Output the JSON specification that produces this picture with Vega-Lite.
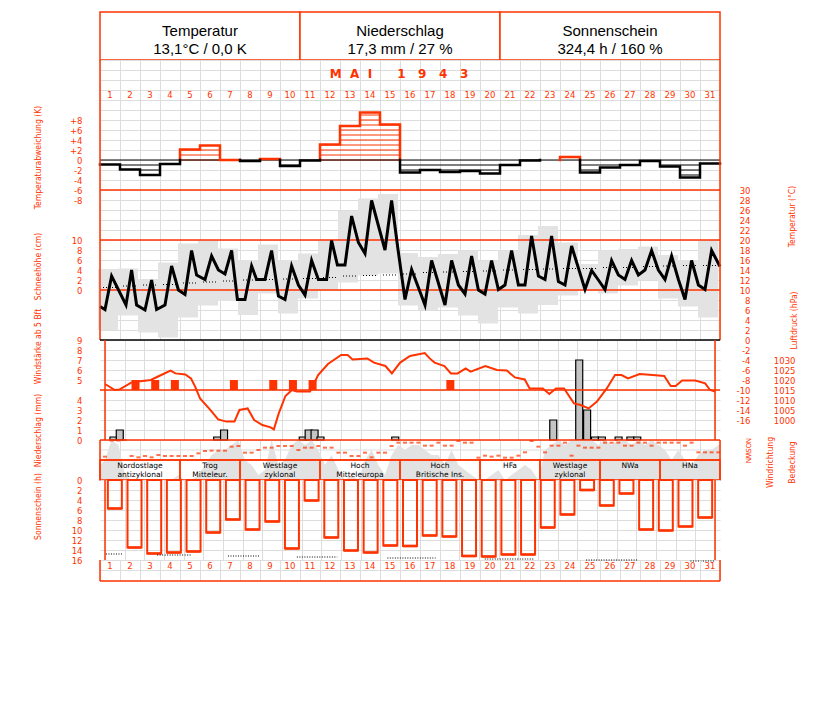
{
"$schema": "https://vega.github.io/schema/vega-lite/v6.json",
"autosize": "none",
"padding": {"left": 100, "top": 12, "right": 727, "bottom": 690},
"background": "white",
"spacing": 0,
"bounds": "flush",
"config": {
  "view": {"stroke": null},
  "axis": {"labelFont": "DejaVu Sans", "labelFontSize": 8.5, "labelColor": "#ff3300", "labelOverlap": false, "labelFlush": false,
           "titleFont": "Liberation Sans Narrow, DejaVu Sans Condensed, Liberation Sans", "titleFontSize": 8.5, "titleFontWeight": "normal", "titleColor": "#ff3300",
           "gridColor": "#dddddd", "gridWidth": 1, "domain": false, "ticks": false},
  "text": {"font": "DejaVu Sans"}
},
"datasets": {
  "hdr": [{"s":1,"e":10,"txt":"Temperatur\n13,1°C / 0,0 K"},{"s":11,"e":20,"txt":"Niederschlag\n17,3 mm / 27 %"},{"s":21,"e":31,"txt":"Sonnenschein\n324,4 h / 160 %"}],
  "anomLine": [
    {"sign":"pos","seg":"A","i":1,"t":4.5,"k":0},{"sign":"pos","seg":"A","i":2,"t":4.5,"k":2.1},{"sign":"pos","seg":"A","i":3,"t":5.5,"k":2.1},{"sign":"pos","seg":"A","i":4,"t":5.5,"k":2.9},{"sign":"pos","seg":"A","i":5,"t":6.5,"k":2.9},{"sign":"pos","seg":"A","i":6,"t":6.5,"k":0},{"sign":"pos","seg":"A","i":7,"t":7.5,"k":0},
    {"sign":"pos","seg":"B","i":1,"t":8.5,"k":0},{"sign":"pos","seg":"B","i":2,"t":8.5,"k":0.2},{"sign":"pos","seg":"B","i":3,"t":9.5,"k":0.2},{"sign":"pos","seg":"B","i":4,"t":9.5,"k":0},
    {"sign":"pos","seg":"C","i":1,"t":11.5,"k":0},{"sign":"pos","seg":"C","i":2,"t":11.5,"k":3.1},{"sign":"pos","seg":"C","i":3,"t":12.5,"k":3.1},{"sign":"pos","seg":"C","i":4,"t":12.5,"k":6.8},{"sign":"pos","seg":"C","i":5,"t":13.5,"k":6.8},{"sign":"pos","seg":"C","i":6,"t":13.5,"k":9.5},{"sign":"pos","seg":"C","i":7,"t":14.5,"k":9.5},{"sign":"pos","seg":"C","i":8,"t":14.5,"k":7.1},{"sign":"pos","seg":"C","i":9,"t":15.5,"k":7.1},{"sign":"pos","seg":"C","i":10,"t":15.5,"k":0},
    {"sign":"pos","seg":"D","i":1,"t":23.5,"k":0},{"sign":"pos","seg":"D","i":2,"t":23.5,"k":0.6},{"sign":"pos","seg":"D","i":3,"t":24.5,"k":0.6},{"sign":"pos","seg":"D","i":4,"t":24.5,"k":0},
    {"sign":"neg","seg":"E","i":1,"t":0.5,"k":-0.9},{"sign":"neg","seg":"E","i":2,"t":1.5,"k":-0.9},{"sign":"neg","seg":"E","i":3,"t":1.5,"k":-1.9},{"sign":"neg","seg":"E","i":4,"t":2.5,"k":-1.9},{"sign":"neg","seg":"E","i":5,"t":2.5,"k":-3.0},{"sign":"neg","seg":"E","i":6,"t":3.5,"k":-3.0},{"sign":"neg","seg":"E","i":7,"t":3.5,"k":-0.8},{"sign":"neg","seg":"E","i":8,"t":4.5,"k":-0.8},{"sign":"neg","seg":"E","i":9,"t":4.5,"k":0},
    {"sign":"neg","seg":"F","i":1,"t":7.5,"k":0},{"sign":"neg","seg":"F","i":2,"t":7.5,"k":-0.2},{"sign":"neg","seg":"F","i":3,"t":8.5,"k":-0.2},{"sign":"neg","seg":"F","i":4,"t":8.5,"k":0},
    {"sign":"neg","seg":"G","i":1,"t":9.5,"k":0},{"sign":"neg","seg":"G","i":2,"t":9.5,"k":-1.2},{"sign":"neg","seg":"G","i":3,"t":10.5,"k":-1.2},{"sign":"neg","seg":"G","i":4,"t":10.5,"k":-0.1},{"sign":"neg","seg":"G","i":5,"t":11.5,"k":-0.1},{"sign":"neg","seg":"G","i":6,"t":11.5,"k":0},
    {"sign":"neg","seg":"H","i":1,"t":15.5,"k":0},{"sign":"neg","seg":"H","i":2,"t":15.5,"k":-2.5},{"sign":"neg","seg":"H","i":3,"t":16.5,"k":-2.5},{"sign":"neg","seg":"H","i":4,"t":16.5,"k":-2.0},{"sign":"neg","seg":"H","i":5,"t":17.5,"k":-2.0},{"sign":"neg","seg":"H","i":6,"t":17.5,"k":-2.4},{"sign":"neg","seg":"H","i":7,"t":18.5,"k":-2.4},{"sign":"neg","seg":"H","i":8,"t":18.5,"k":-2.2},{"sign":"neg","seg":"H","i":9,"t":19.5,"k":-2.2},{"sign":"neg","seg":"H","i":10,"t":19.5,"k":-2.7},{"sign":"neg","seg":"H","i":11,"t":20.5,"k":-2.7},{"sign":"neg","seg":"H","i":12,"t":20.5,"k":-1.0},{"sign":"neg","seg":"H","i":13,"t":21.5,"k":-1.0},{"sign":"neg","seg":"H","i":14,"t":21.5,"k":-0.1},{"sign":"neg","seg":"H","i":15,"t":22.5,"k":-0.1},{"sign":"neg","seg":"H","i":16,"t":22.5,"k":0},
    {"sign":"neg","seg":"I","i":1,"t":24.5,"k":0},{"sign":"neg","seg":"I","i":2,"t":24.5,"k":-2.5},{"sign":"neg","seg":"I","i":3,"t":25.5,"k":-2.5},{"sign":"neg","seg":"I","i":4,"t":25.5,"k":-1.5},{"sign":"neg","seg":"I","i":5,"t":26.5,"k":-1.5},{"sign":"neg","seg":"I","i":6,"t":26.5,"k":-1.0},{"sign":"neg","seg":"I","i":7,"t":27.5,"k":-1.0},{"sign":"neg","seg":"I","i":8,"t":27.5,"k":-0.2},{"sign":"neg","seg":"I","i":9,"t":28.5,"k":-0.2},{"sign":"neg","seg":"I","i":10,"t":28.5,"k":-1.3},{"sign":"neg","seg":"I","i":11,"t":29.5,"k":-1.3},{"sign":"neg","seg":"I","i":12,"t":29.5,"k":-3.5},{"sign":"neg","seg":"I","i":13,"t":30.5,"k":-3.5},{"sign":"neg","seg":"I","i":14,"t":30.5,"k":-0.7},{"sign":"neg","seg":"I","i":15,"t":31.5,"k":-0.7}
  ],
  "anomHatch": [
    {"day":5,"k":0,"sign":"pos"},{"day":5,"k":1,"sign":"pos"},{"day":5,"k":2,"sign":"pos"},
    {"day":6,"k":0,"sign":"pos"},{"day":6,"k":1,"sign":"pos"},{"day":6,"k":2,"sign":"pos"},
    {"day":12,"k":0,"sign":"pos"},{"day":12,"k":1,"sign":"pos"},{"day":12,"k":2,"sign":"pos"},{"day":12,"k":3,"sign":"pos"},
    {"day":13,"k":0,"sign":"pos"},{"day":13,"k":1,"sign":"pos"},{"day":13,"k":2,"sign":"pos"},{"day":13,"k":3,"sign":"pos"},{"day":13,"k":4,"sign":"pos"},{"day":13,"k":5,"sign":"pos"},{"day":13,"k":6,"sign":"pos"},
    {"day":14,"k":0,"sign":"pos"},{"day":14,"k":1,"sign":"pos"},{"day":14,"k":2,"sign":"pos"},{"day":14,"k":3,"sign":"pos"},{"day":14,"k":4,"sign":"pos"},{"day":14,"k":5,"sign":"pos"},{"day":14,"k":6,"sign":"pos"},{"day":14,"k":7,"sign":"pos"},{"day":14,"k":8,"sign":"pos"},{"day":14,"k":9,"sign":"pos"},
    {"day":15,"k":0,"sign":"pos"},{"day":15,"k":1,"sign":"pos"},{"day":15,"k":2,"sign":"pos"},{"day":15,"k":3,"sign":"pos"},{"day":15,"k":4,"sign":"pos"},{"day":15,"k":5,"sign":"pos"},{"day":15,"k":6,"sign":"pos"},{"day":15,"k":7,"sign":"pos"},
    {"day":2,"k":-1,"sign":"neg"},{"day":3,"k":-1,"sign":"neg"},{"day":3,"k":-2,"sign":"neg"},{"day":10,"k":-1,"sign":"neg"},
    {"day":16,"k":-1,"sign":"neg"},{"day":16,"k":-2,"sign":"neg"},{"day":17,"k":-1,"sign":"neg"},{"day":18,"k":-1,"sign":"neg"},{"day":18,"k":-2,"sign":"neg"},
    {"day":19,"k":-1,"sign":"neg"},{"day":19,"k":-2,"sign":"neg"},{"day":20,"k":-1,"sign":"neg"},{"day":20,"k":-2,"sign":"neg"},
    {"day":25,"k":-1,"sign":"neg"},{"day":25,"k":-2,"sign":"neg"},{"day":26,"k":-1,"sign":"neg"},{"day":29,"k":-1,"sign":"neg"},
    {"day":30,"k":-1,"sign":"neg"},{"day":30,"k":-2,"sign":"neg"},{"day":30,"k":-3,"sign":"neg"}
  ],
  "tline": [
    {"t":0.5,"T":6.7},{"t":0.75,"T":6.1},{"t":1.08,"T":12.8},{"t":1.8,"T":7.0},{"t":2.08,"T":14.0},{"t":2.33,"T":7.0},{"t":2.75,"T":6.0},{"t":3.08,"T":12.0},{"t":3.33,"T":6.1},{"t":3.75,"T":7.0},
    {"t":4.08,"T":14.8},{"t":4.42,"T":10.0},{"t":4.75,"T":9.1},{"t":5.08,"T":17.9},{"t":5.33,"T":13.0},{"t":5.75,"T":12.1},{"t":6.08,"T":16.8},{"t":6.42,"T":14.0},{"t":6.75,"T":13.2},{"t":7.08,"T":17.9},
    {"t":7.37,"T":8.1},{"t":7.75,"T":8.1},{"t":8.08,"T":14.8},{"t":8.33,"T":12.1},{"t":8.75,"T":12.1},{"t":9.08,"T":17.9},{"t":9.42,"T":8.8},{"t":9.75,"T":8.1},{"t":10.08,"T":14.8},{"t":10.42,"T":11.0},
    {"t":10.75,"T":9.0},{"t":11.08,"T":15.9},{"t":11.42,"T":12.1},{"t":11.83,"T":12.1},{"t":12.08,"T":19.9},{"t":12.37,"T":15.0},{"t":12.75,"T":15.0},{"t":13.08,"T":24.8},{"t":13.42,"T":19.5},{"t":13.75,"T":17.3},
    {"t":14.08,"T":27.9},{"t":14.75,"T":18.0},{"t":15.08,"T":27.9},{"t":15.38,"T":18.7},{"t":15.75,"T":8.1},{"t":16.08,"T":14.1},{"t":16.75,"T":7.0},{"t":17.08,"T":15.9},{"t":17.75,"T":7.0},{"t":18.08,"T":15.9},
    {"t":18.42,"T":11.0},{"t":18.75,"T":9.2},{"t":19.08,"T":16.8},{"t":19.42,"T":10.0},{"t":19.75,"T":9.2},{"t":20.08,"T":15.9},{"t":20.42,"T":10.1},{"t":20.75,"T":11.0},{"t":21.08,"T":17.9},{"t":21.42,"T":11.0},
    {"t":21.75,"T":11.0},{"t":22.08,"T":20.8},{"t":22.42,"T":12.8},{"t":22.75,"T":12.1},{"t":23.08,"T":20.8},{"t":23.42,"T":11.7},{"t":23.75,"T":11.0},{"t":24.08,"T":18.8},{"t":24.75,"T":10.1},{"t":25.08,"T":13.9},
    {"t":25.42,"T":12.0},{"t":25.75,"T":10.1},{"t":26.08,"T":15.9},{"t":26.42,"T":13.0},{"t":26.75,"T":12.1},{"t":27.08,"T":15.9},{"t":27.42,"T":13.0},{"t":27.75,"T":14.0},{"t":28.08,"T":17.9},{"t":28.42,"T":14.0},
    {"t":28.75,"T":12.1},{"t":29.08,"T":16.8},{"t":29.42,"T":12.1},{"t":29.75,"T":8.1},{"t":30.08,"T":15.9},{"t":30.42,"T":11.0},{"t":30.75,"T":10.1},{"t":31.08,"T":17.9},{"t":31.5,"T":14.7}
  ],
  "tbox": [
    {"day":1,"hi":14.2,"lo":2.0},{"day":2,"hi":14.3,"lo":4.9},{"day":3,"hi":12.2,"lo":1.5},{"day":4,"hi":15.5,"lo":0.5},{"day":5,"hi":19.3,"lo":4.5},{"day":6,"hi":19.8,"lo":6.9},{"day":7,"hi":18.3,"lo":7.8},{"day":8,"hi":16.0,"lo":5.0},
    {"day":9,"hi":19.1,"lo":9.3},{"day":10,"hi":16.0,"lo":5.3},{"day":11,"hi":17.3,"lo":8.3},{"day":12,"hi":20.1,"lo":10.0},{"day":13,"hi":25.8,"lo":11.5},{"day":14,"hi":28.3,"lo":12.9},{"day":15,"hi":29.2,"lo":13.3},{"day":16,"hi":17.4,"lo":6.9},
    {"day":17,"hi":16.6,"lo":6.0},{"day":18,"hi":17.2,"lo":6.5},{"day":19,"hi":17.9,"lo":4.9},{"day":20,"hi":15.8,"lo":3.3},{"day":21,"hi":17.9,"lo":6.5},{"day":22,"hi":21.0,"lo":5.3},{"day":23,"hi":22.8,"lo":7.0},{"day":24,"hi":19.5,"lo":8.9},
    {"day":25,"hi":15.2,"lo":9.9},{"day":26,"hi":17.9,"lo":9.3},{"day":27,"hi":18.2,"lo":10.9},{"day":28,"hi":18.7,"lo":12.0},{"day":29,"hi":17.0,"lo":8.3},{"day":30,"hi":16.0,"lo":6.7},{"day":31,"hi":19.8,"lo":4.5}
  ],
  "tnorm": [
    {"day":1,"T":10.5},{"day":2,"T":10.8},{"day":3,"T":11.0},{"day":4,"T":11.1},{"day":5,"T":11.4},{"day":6,"T":11.6},{"day":7,"T":11.8},{"day":8,"T":12.0},{"day":9,"T":12.1},{"day":10,"T":12.2},
    {"day":11,"T":12.3},{"day":12,"T":12.5},{"day":13,"T":12.8},{"day":14,"T":12.9},{"day":15,"T":13.0},{"day":16,"T":13.2},{"day":17,"T":13.5},{"day":18,"T":13.6},{"day":19,"T":13.7},{"day":20,"T":13.8},
    {"day":21,"T":14.0},{"day":22,"T":14.1},{"day":23,"T":14.2},{"day":24,"T":14.3},{"day":25,"T":14.3},{"day":26,"T":14.5},{"day":27,"T":14.5},{"day":28,"T":14.7},{"day":29,"T":14.8},{"day":30,"T":14.9},{"day":31,"T":14.9}
  ],
  "press": [
    {"t":0.5,"p":1018},{"t":1.0,"p":1015},{"t":1.25,"p":1015.3},{"t":1.83,"p":1018.7},{"t":2.17,"p":1019.2},{"t":2.83,"p":1020},{"t":3.25,"p":1022},{"t":3.83,"p":1024.7},{"t":4.08,"p":1023.3},{"t":4.58,"p":1022.8},
    {"t":4.87,"p":1020.8},{"t":5.08,"p":1016.7},{"t":5.33,"p":1010.8},{"t":5.83,"p":1005.3},{"t":6.25,"p":1000.3},{"t":6.67,"p":999.2},{"t":7.08,"p":999.2},{"t":7.33,"p":1005},{"t":7.75,"p":1005.8},{"t":8.08,"p":1000},
    {"t":8.5,"p":997.5},{"t":8.92,"p":996.3},{"t":9.08,"p":995.3},{"t":9.33,"p":1003.3},{"t":9.67,"p":1012},{"t":10.0,"p":1015},{"t":10.25,"p":1014.2},{"t":10.92,"p":1014.2},{"t":11.33,"p":1022.5},{"t":11.83,"p":1028},
    {"t":12.5,"p":1032.5},{"t":12.83,"p":1032.5},{"t":13.08,"p":1030.3},{"t":13.83,"p":1030.8},{"t":14.17,"p":1028.7},{"t":14.75,"p":1027},{"t":15.08,"p":1023.3},{"t":15.5,"p":1028.7},{"t":16.0,"p":1032},{"t":16.75,"p":1033.5},
    {"t":17.0,"p":1030.8},{"t":17.25,"p":1028.7},{"t":17.75,"p":1027},{"t":18.08,"p":1023.3},{"t":18.42,"p":1023.3},{"t":18.83,"p":1025.8},{"t":19.08,"p":1024.2},{"t":19.83,"p":1027},{"t":20.42,"p":1025},{"t":20.92,"p":1024.7},
    {"t":21.33,"p":1021.3},{"t":21.83,"p":1020.3},{"t":22.08,"p":1015.8},{"t":22.75,"p":1015.8},{"t":23.08,"p":1013},{"t":23.42,"p":1015.8},{"t":23.83,"p":1015.8},{"t":24.33,"p":1008.3},{"t":24.67,"p":1007.5},{"t":25.08,"p":1005.8},
    {"t":25.5,"p":1009.2},{"t":26.0,"p":1015.8},{"t":26.42,"p":1022.5},{"t":26.75,"p":1022.5},{"t":27.08,"p":1020.8},{"t":27.67,"p":1023},{"t":28.33,"p":1022.5},{"t":28.92,"p":1022},{"t":29.25,"p":1017},{"t":29.5,"p":1017},
    {"t":29.83,"p":1019.7},{"t":30.5,"p":1019.7},{"t":31.0,"p":1018.3},{"t":31.25,"p":1015},{"t":31.5,"p":1014.2}
  ],
  "windb": [{"day":2,"bft":5},{"day":3,"bft":5},{"day":4,"bft":5},{"day":7,"bft":5},{"day":9,"bft":5},{"day":10,"bft":5},{"day":11,"bft":5},{"day":18,"bft":5}],
  "prec": [
    {"t":0.93,"mm":0.3},{"t":1.25,"mm":1.0},{"t":6.2,"mm":0.3},{"t":6.55,"mm":1.0},{"t":10.55,"mm":0.3},{"t":10.85,"mm":1.0},{"t":11.15,"mm":1.0},{"t":11.45,"mm":0.3},{"t":15.25,"mm":0.3},
    {"t":23.28,"mm":2.0},{"t":24.6,"mm":8.0},{"t":25.0,"mm":3.0},{"t":25.4,"mm":0.3},{"t":25.75,"mm":0.3},{"t":26.6,"mm":0.3},{"t":27.2,"mm":0.3},{"t":27.55,"mm":0.3}
  ],
  "wdir": [
    {"t":0.75,"dir":300},{"t":1.08,"dir":10},{"t":1.42,"dir":10},{"t":1.75,"dir":0},{"t":2.08,"dir":288},{"t":2.42,"dir":312},{"t":2.75,"dir":288},{"t":3.08,"dir":312},{"t":3.42,"dir":270},
    {"t":3.75,"dir":288},{"t":4.08,"dir":288},{"t":4.42,"dir":288},{"t":4.75,"dir":288},{"t":5.08,"dir":288},{"t":5.42,"dir":240},{"t":5.75,"dir":198},{"t":6.08,"dir":192},{"t":6.42,"dir":192},
    {"t":6.75,"dir":192},{"t":7.08,"dir":120},{"t":7.42,"dir":108},{"t":7.75,"dir":228},{"t":8.08,"dir":228},{"t":8.42,"dir":180},{"t":8.75,"dir":138},{"t":9.08,"dir":138},{"t":9.42,"dir":108},
    {"t":9.75,"dir":108},{"t":10.08,"dir":108},{"t":10.42,"dir":180},{"t":10.75,"dir":138},{"t":11.08,"dir":138},{"t":11.42,"dir":108},{"t":11.75,"dir":138},{"t":12.08,"dir":138},{"t":12.42,"dir":228},
    {"t":12.75,"dir":228},{"t":13.08,"dir":288},{"t":13.42,"dir":288},{"t":13.75,"dir":228},{"t":14.08,"dir":312},{"t":14.42,"dir":228},{"t":14.75,"dir":228},{"t":15.08,"dir":108},{"t":15.42,"dir":48},
    {"t":15.75,"dir":48},{"t":16.08,"dir":48},{"t":16.42,"dir":48},{"t":16.75,"dir":102},{"t":17.08,"dir":102},{"t":17.42,"dir":48},{"t":17.75,"dir":102},{"t":18.08,"dir":102},{"t":18.42,"dir":18},
    {"t":18.75,"dir":48},{"t":19.08,"dir":48},{"t":19.42,"dir":318},{"t":19.75,"dir":282},{"t":20.08,"dir":300},{"t":20.42,"dir":282},{"t":20.75,"dir":318},{"t":21.08,"dir":318},{"t":21.42,"dir":282},
    {"t":21.75,"dir":222},{"t":22.08,"dir":18},{"t":22.42,"dir":120},{"t":22.75,"dir":222},{"t":23.08,"dir":102},{"t":23.42,"dir":102},{"t":23.75,"dir":48},{"t":24.08,"dir":282},{"t":24.42,"dir":102},
    {"t":24.75,"dir":138},{"t":25.08,"dir":138},{"t":25.42,"dir":138},{"t":25.75,"dir":48},{"t":26.08,"dir":48},{"t":26.42,"dir":48},{"t":26.75,"dir":102},{"t":27.08,"dir":102},{"t":27.42,"dir":48},
    {"t":27.75,"dir":48},{"t":28.08,"dir":102},{"t":28.42,"dir":48},{"t":28.75,"dir":48},{"t":29.08,"dir":48},{"t":29.42,"dir":48},{"t":29.75,"dir":102},{"t":30.08,"dir":48},{"t":30.42,"dir":222},
    {"t":30.75,"dir":222},{"t":31.08,"dir":222},{"t":31.42,"dir":222}
  ],
  "cover": [
    {"t":0.5,"c":3},{"t":0.75,"c":4},{"t":1.08,"c":8},{"t":1.42,"c":7},{"t":1.75,"c":1},{"t":2.08,"c":0},{"t":2.42,"c":0},{"t":2.75,"c":0},{"t":3.08,"c":0},{"t":3.42,"c":0},
    {"t":3.75,"c":0},{"t":4.08,"c":0},{"t":4.42,"c":1},{"t":4.75,"c":0},{"t":5.08,"c":0},{"t":5.42,"c":1},{"t":5.75,"c":3},{"t":6.08,"c":5},{"t":6.42,"c":6},{"t":6.75,"c":6},
    {"t":7.08,"c":7},{"t":7.42,"c":8},{"t":7.75,"c":4},{"t":8.08,"c":3},{"t":8.42,"c":1},{"t":8.75,"c":2},{"t":9.08,"c":8},{"t":9.42,"c":3},{"t":9.75,"c":4},{"t":10.08,"c":7},
    {"t":10.42,"c":8},{"t":10.75,"c":7},{"t":11.08,"c":8},{"t":11.42,"c":6},{"t":11.75,"c":3},{"t":12.08,"c":5},{"t":12.42,"c":2},{"t":12.75,"c":0},{"t":13.08,"c":1},{"t":13.42,"c":0},
    {"t":13.75,"c":4},{"t":14.08,"c":6},{"t":14.42,"c":3},{"t":14.75,"c":1},{"t":15.08,"c":5},{"t":15.42,"c":7},{"t":15.75,"c":6},{"t":16.08,"c":7},{"t":16.42,"c":7},{"t":16.75,"c":6},
    {"t":17.08,"c":5},{"t":17.42,"c":5},{"t":17.75,"c":3},{"t":18.08,"c":6},{"t":18.42,"c":3},{"t":18.75,"c":2},{"t":19.08,"c":1},{"t":19.42,"c":0},{"t":19.75,"c":0},{"t":20.08,"c":1},
    {"t":20.42,"c":2},{"t":20.75,"c":0},{"t":21.08,"c":1},{"t":21.42,"c":2},{"t":21.75,"c":3},{"t":22.08,"c":2},{"t":22.42,"c":0},{"t":22.75,"c":6},{"t":23.08,"c":7},{"t":23.42,"c":8},
    {"t":23.75,"c":7},{"t":24.08,"c":8},{"t":24.42,"c":8},{"t":24.75,"c":8},{"t":25.08,"c":8},{"t":25.42,"c":7},{"t":25.75,"c":8},{"t":26.08,"c":7},{"t":26.42,"c":8},{"t":26.75,"c":8},
    {"t":27.08,"c":7},{"t":27.42,"c":8},{"t":27.75,"c":7},{"t":28.08,"c":8},{"t":28.42,"c":7},{"t":28.75,"c":6},{"t":29.08,"c":4},{"t":29.42,"c":6},{"t":29.75,"c":4},{"t":30.08,"c":3},
    {"t":30.42,"c":5},{"t":30.75,"c":6},{"t":31.08,"c":6},{"t":31.42,"c":7},{"t":31.5,"c":7}
  ],
  "gwl": [
    {"s":1,"e":4,"l":"Nordostlage\nantizyklonal"},{"s":5,"e":7,"l":"Trog\nMitteleur."},{"s":8,"e":11,"l":"Westlage\nzyklonal"},{"s":12,"e":15,"l":"Hoch\nMitteleuropa"},
    {"s":16,"e":19,"l":"Hoch\nBritische Ins."},{"s":20,"e":22,"l":"HFa"},{"s":23,"e":25,"l":"Westlage\nzyklonal"},{"s":26,"e":28,"l":"NWa"},{"s":29,"e":31,"l":"HNa"}
  ],
  "sun": [
    {"day":1,"h":5.7},{"day":2,"h":13.5},{"day":3,"h":14.7},{"day":4,"h":14.5},{"day":5,"h":14.3},{"day":6,"h":10.5},{"day":7,"h":7.9},{"day":8,"h":9.9},{"day":9,"h":8.3},{"day":10,"h":13.7},
    {"day":11,"h":4.1},{"day":12,"h":11.5},{"day":13,"h":14.1},{"day":14,"h":14.5},{"day":15,"h":13.1},{"day":16,"h":13.2},{"day":17,"h":11.1},{"day":18,"h":11.3},{"day":19,"h":15.2},{"day":20,"h":15.3},
    {"day":21,"h":14.9},{"day":22,"h":14.9},{"day":23,"h":9.5},{"day":24,"h":6.9},{"day":25,"h":2.0},{"day":26,"h":5.1},{"day":27,"h":2.7},{"day":28,"h":9.9},{"day":29,"h":10.1},{"day":30,"h":9.3},{"day":31,"h":7.5}
  ],
  "sunref": [
    {"t1":0.55,"t2":1.4,"h":14.8},{"t1":3.15,"t2":4.9,"h":15.0},{"t1":6.75,"t2":8.4,"h":15.2},{"t1":10.25,"t2":12.3,"h":15.4},
    {"t1":14.85,"t2":17.3,"h":15.6},{"t1":19.8,"t2":22.3,"h":15.8},{"t1":24.95,"t2":27.6,"h":16.0},{"t1":30.25,"t2":31.5,"h":16.2}
  ]
},
"vconcat": [
  {
    "width": 620, "height": 48,
    "data": {"name": "hdr"},
    "layer": [
      {"mark": {"type": "rect", "fill": "white", "stroke": "#ff3300", "strokeWidth": 1.5, "xOffset": -10, "x2Offset": 10},
       "encoding": {"x": {"field": "s", "type": "quantitative", "scale": {"domain": [0.5, 31.5], "nice": false, "zero": false}, "axis": null},
                    "x2": {"field": "e"},
                    "y": {"datum": 0, "type": "quantitative", "scale": {"domain": [0, 1], "nice": false}, "axis": null},
                    "y2": {"datum": 1}}},
      {"transform": [{"calculate": "(datum.s + datum.e) / 2", "as": "mid"}],
       "mark": {"type": "text", "font": "Liberation Sans", "fontSize": 15, "lineBreak": "\n", "lineHeight": 18, "baseline": "middle", "color": "black"},
       "encoding": {"x": {"field": "mid", "type": "quantitative", "axis": null},
                    "y": {"datum": 0.6, "type": "quantitative"},
                    "text": {"field": "txt"}}}
    ]
  },
  {
    "width": 620, "height": 50,
    "resolve": {"axis": {"x": "independent", "y": "independent"}},
    "layer": [
      {"data": {"name": "sun"},
       "mark": {"type": "text", "color": "#ff3300", "fontSize": 8.5, "baseline": "middle"},
       "encoding": {"x": {"field": "day", "type": "quantitative", "scale": {"domain": [0.5, 31.5], "nice": false, "zero": false},
                          "axis": {"values": [0.5,1.5,2.5,3.5,4.5,5.5,6.5,7.5,8.5,9.5,10.5,11.5,12.5,13.5,14.5,15.5,16.5,17.5,18.5,19.5,20.5,21.5,22.5,23.5,24.5,25.5,26.5,27.5,28.5,29.5,30.5,31.5], "grid": true, "labels": false, "title": null}},
                    "y": {"datum": 1.5, "type": "quantitative", "scale": {"domain": [0, 5], "nice": false, "zero": false}, "axis": {"values": [0,1,2,3,4,5], "grid": true, "labels": false, "title": null}},
                    "text": {"field": "day", "type": "quantitative"}}},
      {"data": {"values": [{"title": "M\u00a0\u00a0A\u00a0\u00a0I\u00a0\u00a0\u00a0\u00a0\u00a0\u00a01\u00a0\u00a0\u00a09\u00a0\u00a0\u00a04\u00a0\u00a0\u00a03"}]},
       "mark": {"type": "text", "color": "#ff3300", "fontSize": 12, "fontWeight": "bold", "baseline": "middle"},
       "encoding": {"x": {"datum": 15.45, "type": "quantitative", "axis": null}, "y": {"datum": 3.6, "type": "quantitative", "axis": null}, "text": {"field": "title"}}},
      {"data": {"values": [{"edge": 0.5}, {"edge": 31.5}]}, "mark": {"type": "rule", "color": "#ff3300", "strokeWidth": 1.5},
       "encoding": {"x": {"field": "edge", "type": "quantitative", "axis": null}}}
    ]
  },
  {
    "width": 620, "height": 80,
    "resolve": {"axis": {"x": "independent", "y": "independent"}},
    "layer": [
      {"data": {"name": "anomHatch"},
       "mark": {"type": "rule", "strokeWidth": 1, "xOffset": -10, "x2Offset": 10},
       "encoding": {"x": {"field": "day", "type": "quantitative", "scale": {"domain": [0.5, 31.5], "nice": false, "zero": false},
                          "axis": {"values": [0.5,1.5,2.5,3.5,4.5,5.5,6.5,7.5,8.5,9.5,10.5,11.5,12.5,13.5,14.5,15.5,16.5,17.5,18.5,19.5,20.5,21.5,22.5,23.5,24.5,25.5,26.5,27.5,28.5,29.5,30.5,31.5], "grid": true, "labels": false, "title": null}},
                    "x2": {"field": "day"},
                    "y": {"field": "k", "type": "quantitative", "scale": {"domain": [-6, 10], "nice": false, "zero": false},
                          "axis": {"values": [-6,-4,-2,0,2,4,6,8,10], "grid": true, "labelPadding": 18,
                                   "labelExpr": "datum.value >= 10 ? '' : (datum.value > 0 ? '+' + datum.value : '' + datum.value)",
                                   "title": "Temperaturabweichung (K)", "titleX": -63, "titleY": 47, "titleBaseline": "middle"}},
                    "color": {"field": "sign", "type": "nominal", "scale": {"domain": ["pos", "neg"], "range": ["#ff3300", "#000000"]}, "legend": null}}},
      {"data": {"values": [{}]}, "mark": {"type": "rule", "color": "black", "strokeWidth": 1},
       "encoding": {"y": {"datum": 0, "type": "quantitative", "axis": null}}},
      {"data": {"name": "anomLine"},
       "mark": {"type": "line", "strokeWidth": 2.5, "strokeCap": "square"},
       "encoding": {"x": {"field": "t", "type": "quantitative", "axis": null},
                    "y": {"field": "k", "type": "quantitative", "axis": null},
                    "color": {"field": "sign", "type": "nominal", "scale": {"domain": ["pos", "neg"], "range": ["#ff3300", "#000000"]}, "legend": null},
                    "detail": {"field": "seg"},
                    "order": {"field": "i", "type": "quantitative"}}},
      {"data": {"values": [{"edge": 0.5}, {"edge": 31.5}]}, "mark": {"type": "rule", "color": "#ff3300", "strokeWidth": 1.5},
       "encoding": {"x": {"field": "edge", "type": "quantitative", "axis": null}}}
    ]
  },
  {
    "width": 620, "height": 150,
    "resolve": {"axis": {"x": "independent", "y": "independent"}},
    "layer": [
      {"data": {"name": "tbox"},
       "mark": {"type": "rect", "color": "#e3e3e3", "xOffset": -12, "x2Offset": 8},
       "encoding": {"x": {"field": "day", "type": "quantitative", "scale": {"domain": [0.5, 31.5], "nice": false, "zero": false},
                          "axis": {"values": [0.5,1.5,2.5,3.5,4.5,5.5,6.5,7.5,8.5,9.5,10.5,11.5,12.5,13.5,14.5,15.5,16.5,17.5,18.5,19.5,20.5,21.5,22.5,23.5,24.5,25.5,26.5,27.5,28.5,29.5,30.5,31.5], "grid": true, "labels": false, "title": null}},
                    "x2": {"field": "day"},
                    "y": {"field": "hi", "type": "quantitative", "scale": {"domain": [0, 30], "nice": false, "zero": false},
                          "axis": {"values": [0,2,4,6,8,10,12,14,16,18,20,22,24,26,28,30], "grid": true, "labelPadding": 18,
                                   "labelExpr": "datum.value == 28 ? '-8' : (datum.value >= 10 && datum.value <= 20 ? '' + (datum.value - 10) : '')",
                                   "title": "Schneehöhe (cm)", "titleX": -63, "titleY": 76, "titleBaseline": "middle"}},
                    "y2": {"field": "lo"}}},
      {"data": {"values": [{"v": 10}, {"v": 20}, {"v": 30}]},
       "mark": {"type": "rule", "color": "#ff3300", "strokeWidth": 1.5},
       "encoding": {"y": {"field": "v", "type": "quantitative", "axis": null}}},
      {"data": {"name": "tnorm"},
       "mark": {"type": "rule", "color": "black", "strokeWidth": 1, "strokeDash": [1, 2], "xOffset": -7, "x2Offset": 7},
       "encoding": {"x": {"field": "day", "type": "quantitative", "axis": null}, "x2": {"field": "day"},
                    "y": {"field": "T", "type": "quantitative", "axis": null}}},
      {"data": {"name": "tline"},
       "mark": {"type": "line", "color": "black", "strokeWidth": 3},
       "encoding": {"x": {"field": "t", "type": "quantitative", "axis": null},
                    "y": {"field": "T", "type": "quantitative",
                          "axis": {"orient": "right", "values": [2,4,6,8,10,12,14,16,18,20,22,24,26,28,30], "grid": false, "labelAlign": "right", "labelPadding": 30,
                                   "title": "Temperatur (°C)", "titleAngle": 270, "titleX": 71, "titleY": 26, "titleBaseline": "middle"}}}},
      {"data": {"values": [{"edge": 0.5}, {"edge": 31.5}]}, "mark": {"type": "rule", "color": "#ff3300", "strokeWidth": 1.5},
       "encoding": {"x": {"field": "edge", "type": "quantitative", "axis": null}}}
    ]
  },
  {
    "width": 620, "height": 100,
    "resolve": {"scale": {"y": "independent"}, "axis": {"x": "independent", "y": "independent"}},
    "layer": [
      {"data": {"name": "prec"},
       "mark": {"type": "bar", "width": 7, "fill": "#c4c4c4", "stroke": "black", "strokeWidth": 1.2},
       "encoding": {"x": {"field": "t", "type": "quantitative", "scale": {"domain": [0.5, 31.5], "nice": false, "zero": false},
                          "axis": {"values": [0.5,1.5,2.5,3.5,4.5,5.5,6.5,7.5,8.5,9.5,10.5,11.5,12.5,13.5,14.5,15.5,16.5,17.5,18.5,19.5,20.5,21.5,22.5,23.5,24.5,25.5,26.5,27.5,28.5,29.5,30.5,31.5], "grid": true, "labels": false, "title": null}},
                    "y": {"field": "mm", "type": "quantitative", "scale": {"domain": [0, 10], "nice": false, "zero": false},
                          "axis": {"orient": "left", "values": [0,1,2,3,4,5,6,7,8,9,10], "grid": true, "labelPadding": 18,
                                   "labelExpr": "datum.value <= 4 ? '' + datum.value : ''",
                                   "title": "Niederschlag (mm)", "titleX": -63, "titleY": 90, "titleBaseline": "middle"}},
                    "y2": {"datum": 0}}},
      {"data": {"name": "windb"},
       "mark": {"type": "bar", "width": 8, "xOffset": 1, "color": "#ff3300"},
       "encoding": {"x": {"field": "day", "type": "quantitative", "axis": null},
                    "y": {"field": "bft", "type": "quantitative", "scale": {"domain": [-1, 9], "nice": false, "zero": false},
                          "axis": {"orient": "left", "values": [5,6,7,8,9], "grid": false, "labelPadding": 18,
                                   "title": "Windstärke ab 5 Bft", "titleX": -63, "titleY": 6, "titleBaseline": "middle"}},
                    "y2": {"datum": 4}}},
      {"data": {"values": [{}]}, "mark": {"type": "rule", "color": "#ff3300", "strokeWidth": 1.5},
       "encoding": {"y": {"datum": 1015, "type": "quantitative", "scale": {"domain": [990, 1040], "nice": false, "zero": false}, "axis": null}}},
      {"data": {"name": "press"},
       "mark": {"type": "line", "color": "#ff3300", "strokeWidth": 2},
       "encoding": {"x": {"field": "t", "type": "quantitative", "axis": null},
                    "y": {"field": "p", "type": "quantitative", "scale": {"domain": [990, 1040], "nice": false, "zero": false},
                          "axis": {"orient": "right", "values": [1000,1005,1010,1015,1020,1025,1030], "format": "d", "grid": false, "labelAlign": "right", "labelPadding": 75,
                                   "title": "Luftdruck (hPa)", "titleAngle": 270, "titleX": 73, "titleY": -20, "titleBaseline": "middle"}}}},
      {"data": {"values": [{}]}, "mark": {"type": "rule", "color": "black", "strokeWidth": 1.5},
       "encoding": {"y": {"datum": 0, "type": "quantitative", "scale": {"domain": [-20, 0], "nice": false, "zero": false},
                          "axis": {"orient": "right", "values": [0,-2,-4,-6,-8,-10,-12,-14,-16], "labelExpr": "'' + datum.value", "grid": false, "labelAlign": "right", "labelPadding": 30, "title": null}}}},
      {"data": {"values": [{"edge": 0.5}, {"edge": 31.5}]}, "mark": {"type": "rule", "color": "#ff3300", "strokeWidth": 1.5},
       "encoding": {"x": {"field": "edge", "type": "quantitative", "axis": null}}}
    ]
  },
  {
    "width": 620, "height": 40,
    "resolve": {"scale": {"y": "independent"}, "axis": {"x": "independent", "y": "independent"}},
    "layer": [
      {"data": {"values": [{}]}, "mark": {"type": "rule", "color": "#dddddd", "strokeWidth": 1},
       "encoding": {"x": {"datum": 0.5, "type": "quantitative", "scale": {"domain": [0.5, 31.5], "nice": false, "zero": false},
                          "axis": {"values": [0.5,1.5,2.5,3.5,4.5,5.5,6.5,7.5,8.5,9.5,10.5,11.5,12.5,13.5,14.5,15.5,16.5,17.5,18.5,19.5,20.5,21.5,22.5,23.5,24.5,25.5,26.5,27.5,28.5,29.5,30.5,31.5], "grid": true, "labels": false, "title": null}},
                    "y": {"datum": 6, "type": "quantitative", "scale": {"domain": [0, 8], "nice": false, "zero": false}, "axis": null}}},
      {"data": {"values": [{}]}, "mark": {"type": "rule", "color": "#dddddd", "strokeWidth": 1},
       "encoding": {"y": {"datum": 6, "type": "quantitative", "scale": {"domain": [0, 8], "nice": false, "zero": false}, "axis": null}}},
      {"data": {"name": "gwl"},
       "mark": {"type": "rect", "fill": "white", "xOffset": -10, "x2Offset": 10},
       "encoding": {"x": {"field": "s", "type": "quantitative", "axis": null}, "x2": {"field": "e"},
                    "y": {"datum": 0, "type": "quantitative", "scale": {"domain": [0, 8], "nice": false, "zero": false}, "axis": null},
                    "y2": {"datum": 4}}},
      {"data": {"name": "cover"},
       "mark": {"type": "area", "color": "#e2e2e2", "interpolate": "linear"},
       "encoding": {"x": {"field": "t", "type": "quantitative", "axis": null},
                    "y": {"field": "c", "type": "quantitative", "scale": {"domain": [0, 8], "nice": false, "zero": false},
                          "axis": {"orient": "right", "labels": false, "grid": false, "title": "Bedeckung", "titleAngle": 270, "titleX": 71, "titleY": 22, "titleBaseline": "middle"}},
                    "y2": {"datum": 0}}},
      {"data": {"values": [{"v": 4}, {"v": 8}]},
       "mark": {"type": "rule", "color": "#ff3300", "strokeWidth": 1.5},
       "encoding": {"y": {"field": "v", "type": "quantitative", "scale": {"domain": [0, 8], "nice": false, "zero": false}, "axis": null}}},
      {"data": {"name": "gwl"},
       "mark": {"type": "rect", "fill": null, "stroke": "#ff3300", "strokeWidth": 1.5, "xOffset": -10, "x2Offset": 10},
       "encoding": {"x": {"field": "s", "type": "quantitative", "axis": null}, "x2": {"field": "e"},
                    "y": {"datum": 0, "type": "quantitative", "scale": {"domain": [0, 8], "nice": false, "zero": false}, "axis": null},
                    "y2": {"datum": 4}}},
      {"data": {"name": "wdir"},
       "mark": {"type": "tick", "orient": "horizontal", "size": 4, "thickness": 2, "color": "#ff3300"},
       "encoding": {"x": {"field": "t", "type": "quantitative", "axis": null},
                    "y": {"field": "dir", "type": "quantitative", "scale": {"domain": [0, 720], "reverse": true, "nice": false, "zero": false},
                          "axis": {"orient": "right", "values": [0, 90, 180, 270, 360], "grid": false,
                                   "labelExpr": "['N','O','S','W','N'][round(datum.value / 90)]",
                                   "labelAngle": 90, "labelAlign": "center", "labelBaseline": "middle", "labelPadding": 27, "labelFontSize": 7,
                                   "title": "Windrichtung", "titleAngle": 270, "titleX": 49, "titleY": 22, "titleBaseline": "middle"}}}},
      {"data": {"name": "gwl"},
       "transform": [{"calculate": "(datum.s + datum.e) / 2", "as": "mid"}],
       "mark": {"type": "text", "fontSize": 7.5, "lineBreak": "\n", "lineHeight": 8.3, "baseline": "middle", "color": "black"},
       "encoding": {"x": {"field": "mid", "type": "quantitative", "axis": null},
                    "y": {"datum": 2.75, "type": "quantitative", "scale": {"domain": [0, 8], "nice": false, "zero": false}, "axis": null},
                    "text": {"field": "l"}}},
      {"data": {"values": [{"edge": 0.5}, {"edge": 31.5}]}, "mark": {"type": "rule", "color": "#ff3300", "strokeWidth": 1.5},
       "encoding": {"x": {"field": "edge", "type": "quantitative", "axis": null}}}
    ]
  },
  {
    "width": 620, "height": 80,
    "resolve": {"axis": {"x": "independent", "y": "independent"}},
    "layer": [
      {"data": {"name": "sun"},
       "mark": {"type": "bar", "width": 14, "filled": false, "color": "#ff3300", "strokeWidth": 2},
       "encoding": {"x": {"field": "day", "type": "quantitative", "scale": {"domain": [0.5, 31.5], "nice": false, "zero": false},
                          "axis": {"values": [0.5,1.5,2.5,3.5,4.5,5.5,6.5,7.5,8.5,9.5,10.5,11.5,12.5,13.5,14.5,15.5,16.5,17.5,18.5,19.5,20.5,21.5,22.5,23.5,24.5,25.5,26.5,27.5,28.5,29.5,30.5,31.5], "grid": true, "labels": false, "title": null}},
                    "y": {"field": "h", "type": "quantitative", "scale": {"domain": [0, 16], "reverse": true, "nice": false, "zero": false},
                          "axis": {"values": [0,2,4,6,8,10,12,14,16], "grid": true, "labelPadding": 18,
                                   "title": "Sonnenschein (h)", "titleX": -63, "titleY": 26, "titleBaseline": "middle"}},
                    "y2": {"datum": 0}}},
      {"data": {"name": "sun"},
       "mark": {"type": "tick", "orient": "horizontal", "size": 14, "thickness": 3, "color": "#ff3300"},
       "encoding": {"x": {"field": "day", "type": "quantitative", "axis": null},
                    "y": {"field": "h", "type": "quantitative", "axis": null}}},
      {"data": {"name": "sunref"},
       "mark": {"type": "rule", "color": "black", "strokeWidth": 1, "strokeDash": [1, 1.5]},
       "encoding": {"x": {"field": "t1", "type": "quantitative", "axis": null}, "x2": {"field": "t2"},
                    "y": {"field": "h", "type": "quantitative", "axis": null}}},
      {"data": {"values": [{"edge": 0.5}, {"edge": 31.5}]}, "mark": {"type": "rule", "color": "#ff3300", "strokeWidth": 1.5},
       "encoding": {"x": {"field": "edge", "type": "quantitative", "axis": null}}}
    ]
  },
  {
    "width": 620, "height": 21,
    "resolve": {"axis": {"x": "independent", "y": "independent"}},
    "layer": [
      {"data": {"name": "sun"},
       "mark": {"type": "text", "color": "#ff3300", "fontSize": 8.5, "baseline": "middle"},
       "encoding": {"x": {"field": "day", "type": "quantitative", "scale": {"domain": [0.5, 31.5], "nice": false, "zero": false},
                          "axis": {"values": [0.5,1.5,2.5,3.5,4.5,5.5,6.5,7.5,8.5,9.5,10.5,11.5,12.5,13.5,14.5,15.5,16.5,17.5,18.5,19.5,20.5,21.5,22.5,23.5,24.5,25.5,26.5,27.5,28.5,29.5,30.5,31.5], "grid": true, "labels": false, "title": null}},
                    "y": {"datum": 15, "type": "quantitative", "scale": {"domain": [0, 21], "nice": false, "zero": false}, "axis": {"values": [11], "grid": true, "labels": false, "title": null}},
                    "text": {"field": "day", "type": "quantitative"}}},
      {"data": {"values": [{}]}, "mark": {"type": "rule", "color": "#ff3300", "strokeWidth": 1.5},
       "encoding": {"y": {"datum": 0, "type": "quantitative", "axis": null}}},
      {"data": {"values": [{"edge": 0.5}, {"edge": 31.5}]}, "mark": {"type": "rule", "color": "#ff3300", "strokeWidth": 1.5},
       "encoding": {"x": {"field": "edge", "type": "quantitative", "axis": null}}}
    ]
  }
]
}
